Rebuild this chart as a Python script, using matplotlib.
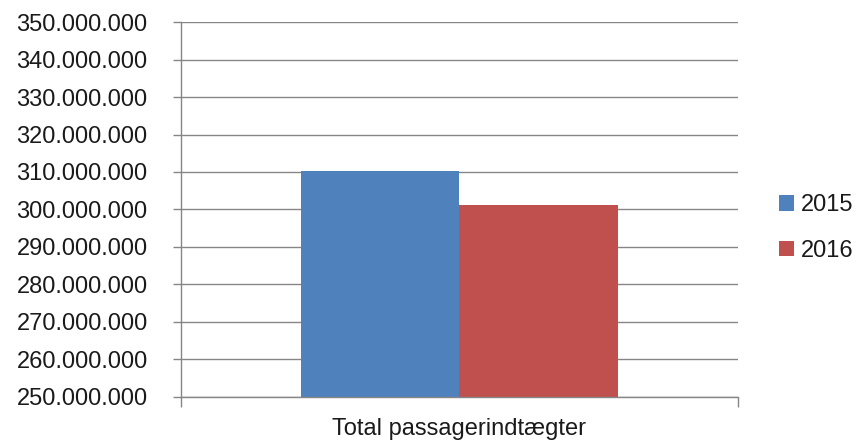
import matplotlib
matplotlib.use("Agg")
import matplotlib.pyplot as plt
from matplotlib.ticker import FuncFormatter

# ---------------------------------------------------------------------------
# Data
# ---------------------------------------------------------------------------
CATEGORY = "Total passagerindtægter"
YEARS = ["2015", "2016"]
VALUES = [310_300_000, 301_150_000]
COLORS = ["#4F81BD", "#C0504D"]

Y_MIN, Y_MAX, Y_STEP = 250_000_000, 350_000_000, 10_000_000

plt.rcParams["font.family"] = ["Liberation Sans", "DejaVu Sans"]
GRAY = "#868686"
TXT = "#1a1a1a"

fig = plt.figure(figsize=(8.57, 4.41), dpi=100)
ax = fig.add_axes([0.2112, 0.0998, 0.6499, 0.8503])

bar_w = 0.2846
offsets = [-bar_w / 2, bar_w / 2]
bars = []
for year, val, col, off in zip(YEARS, VALUES, COLORS, offsets):
    b = ax.bar(off, val - Y_MIN, bottom=Y_MIN, width=bar_w, color=col,
               label=year, zorder=3)
    bars.append(b)

ax.set_xlim(-0.5, 0.5)
ax.set_ylim(Y_MIN, Y_MAX)
ax.set_yticks(range(Y_MIN, Y_MAX + 1, Y_STEP))
ax.yaxis.set_major_formatter(
    FuncFormatter(lambda v, _: f"{int(v):,}".replace(",", ".")))
ax.yaxis.grid(True, color=GRAY, linewidth=1.0, zorder=0)

ax.set_xticks([0])
ax.set_xticklabels([CATEGORY])
ax.set_xticks([-0.5, 0.5], minor=True)
ax.tick_params(axis="x", which="major", length=0, pad=15, labelsize=17,
               labelcolor=TXT)
ax.tick_params(axis="x", which="minor", length=7, color=GRAY, width=1,
               direction="out")
ax.tick_params(axis="y", length=6, color=GRAY, width=1, direction="out",
               pad=18, labelsize=17, labelcolor=TXT)

for side in ["top", "right"]:
    ax.spines[side].set_visible(False)
for side in ["left", "bottom"]:
    ax.spines[side].set_color(GRAY)
    ax.spines[side].set_linewidth(1.0)
    ax.spines[side].set_zorder(4)

fig.legend(handles=[b[0] for b in bars], labels=YEARS,
           loc="center left", bbox_to_anchor=(0.895, 0.483),
           frameon=False, fontsize=17, handlelength=0.66, handleheight=0.66,
           handletextpad=0.28, labelspacing=1.0, borderpad=0,
           labelcolor=TXT)

fig.savefig("out.png", dpi=100)
